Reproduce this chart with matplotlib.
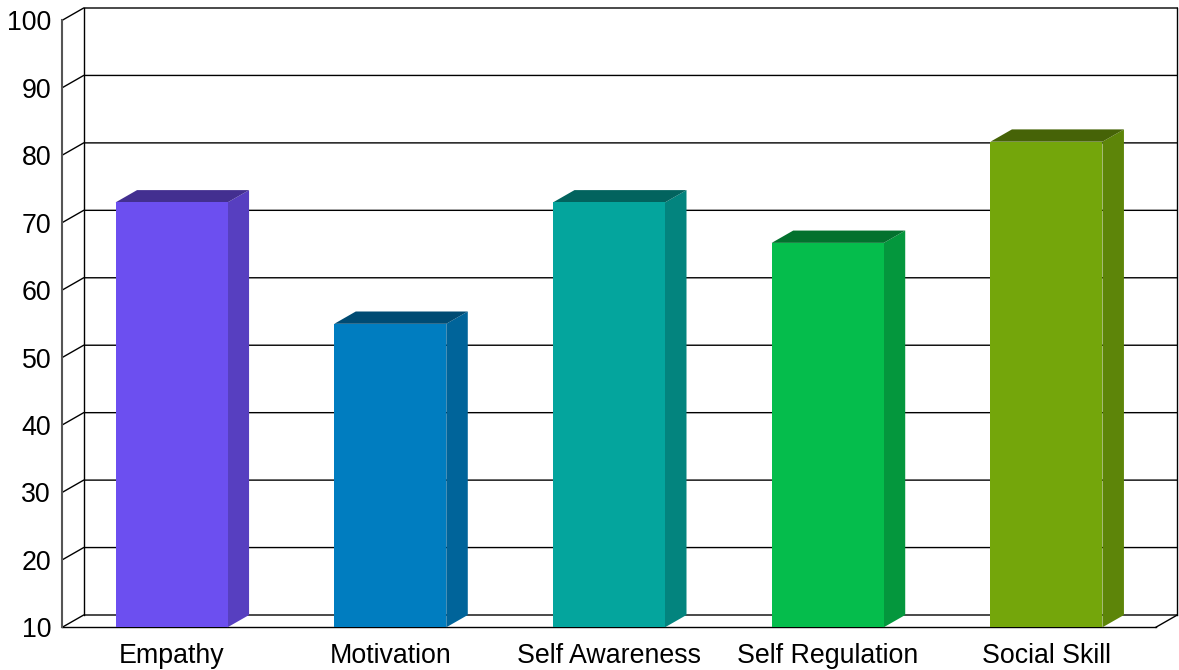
import matplotlib
matplotlib.use("Agg")
import matplotlib.pyplot as plt

categories = ["Empathy", "Motivation", "Self Awareness", "Self Regulation", "Social Skill"]
values = [73, 55, 73, 67, 82]
front_colors = ["#6C4FF0", "#007DC0", "#04A59D", "#05BD4C", "#74A60B"]
side_colors = ["#573FC0", "#00649A", "#03847E", "#04973D", "#5D8509"]
top_colors = ["#432F90", "#004B73", "#02635E", "#03712E", "#466307"]
y_ticks = [10, 20, 30, 40, 50, 60, 70, 80, 90, 100]

plt.rcParams["font.family"] = ["Liberation Sans", "DejaVu Sans"]
W, H = 1179, 670
fig = plt.figure(figsize=(W / 100, H / 100), dpi=100, facecolor="white")
L, R, T, B = 62.2, 1155.8, 20.3, 627.3
ax = fig.add_axes([L / W, 1 - B / H, (R - L) / W, (B - T) / H])
ax.set_xlim(-0.5, 4.5)
ax.set_ylim(10, 100)
ax.patch.set_visible(False)

px = (R - L) / 5
py = (B - T) / 90
dx = 21.5 / px
dy = 12.3 / py
x0, x1 = -0.5, 4.5

# back wall, side wall and floor
for t in y_ticks:
    ax.plot([x0, x0 + dx, x1 + dx], [t, t + dy, t + dy], color="black", lw=1.0,
            clip_on=False, zorder=1, solid_joinstyle="miter")
ax.plot([x0 + dx, x0 + dx], [10 + dy, 100 + dy], color="black", lw=1.0, clip_on=False, zorder=1)
ax.plot([x1 + dx, x1 + dx], [10 + dy, 100 + dy], color="black", lw=1.0, clip_on=False, zorder=1)
ax.plot([x1, x1 + dx], [10, 10 + dy], color="black", lw=1.0, clip_on=False, zorder=1)

# bars
bar_w = 112 / px
xs = list(range(len(categories)))
heights = [v - 10 for v in values]
ax.bar(xs, heights, bottom=10, width=bar_w, color=front_colors, linewidth=0, zorder=3)
for i, v in enumerate(values):
    a, b = i - bar_w / 2, i + bar_w / 2
    ax.fill([b, b + dx, b + dx, b], [10, 10 + dy, v + dy, v], color=side_colors[i],
            lw=0, clip_on=False, zorder=2.5)
    ax.fill([a, a + dx, b + dx, b], [v, v + dy, v + dy, v], color=top_colors[i],
            lw=0, clip_on=False, zorder=2.5)

for s in ("top", "right"):
    ax.spines[s].set_visible(False)
ax.spines["left"].set_color("#555555")
ax.spines["left"].set_linewidth(1.5)
ax.spines["bottom"].set_color("black")
ax.spines["bottom"].set_linewidth(1.0)
ax.spines["bottom"].set_zorder(2)

ax.set_xticks(xs)
ax.set_xticklabels(categories, fontsize=19.3)
ax.set_yticks(y_ticks)
ax.set_yticklabels([str(t) for t in y_ticks], fontsize=19.3)
ax.tick_params(axis="x", length=0, pad=11.5, colors="black")
ax.tick_params(axis="y", length=0, pad=8, colors="black")

fig.savefig("out.png", dpi=100, facecolor="white")
